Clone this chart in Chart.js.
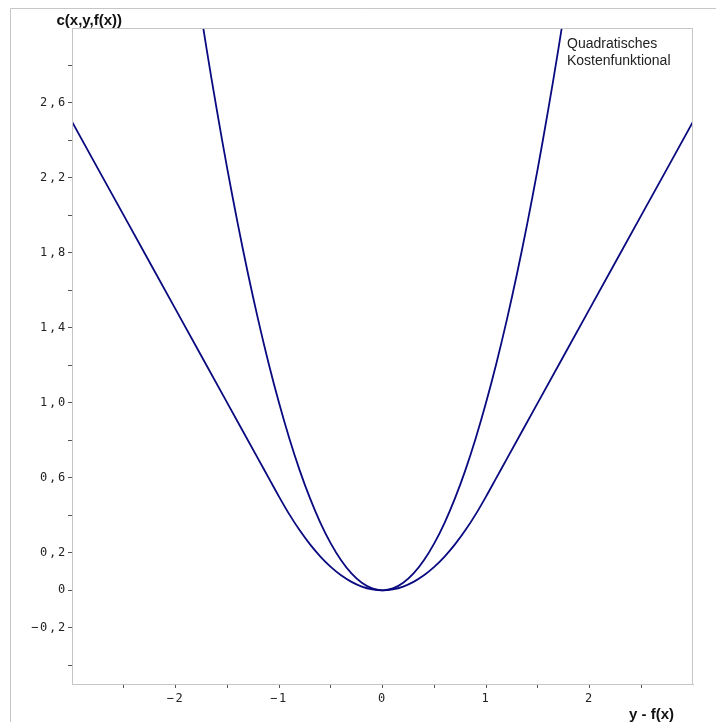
<!DOCTYPE html>
<html>
<head>
<meta charset="utf-8">
<script src="https://cdn.jsdelivr.net/npm/chart.js@4"></script>
<style>
  body { margin: 0; background: #fff; }
  canvas { display: block; }
</style>
</head>
<body>
<canvas id="myChart" width="716" height="722"></canvas>
<script>
// quadratic cost
let quadX = [-1.8, -1.7, -1.6, -1.5, -1.4, -1.3, -1.2, -1.1, -1.0, -0.9, -0.8, -0.7, -0.6, -0.5, -0.4, -0.3, -0.2, -0.1, 0,
  0.1, 0.2, 0.3, 0.4, 0.5, 0.6, 0.7, 0.8, 0.9, 1.0, 1.1, 1.2, 1.3, 1.4, 1.5, 1.6, 1.7, 1.8];
let quadCost = [3.24, 2.89, 2.56, 2.25, 1.96, 1.69, 1.44, 1.21, 1.0, 0.81, 0.64, 0.49, 0.36, 0.25, 0.16, 0.09, 0.04, 0.01, 0,
  0.01, 0.04, 0.09, 0.16, 0.25, 0.36, 0.49, 0.64, 0.81, 1.0, 1.21, 1.44, 1.69, 1.96, 2.25, 2.56, 2.89, 3.24];

// the flatter curve (quadratic in the middle, straight outside)
let flatX = [-3.0, -2.5, -2.0, -1.5, -1.2, -1.1, -1.0, -0.9, -0.8, -0.7, -0.6, -0.5, -0.4, -0.3, -0.2, -0.1, 0,
  0.1, 0.2, 0.3, 0.4, 0.5, 0.6, 0.7, 0.8, 0.9, 1.0, 1.1, 1.2, 1.5, 2.0, 2.5, 3.0];
let flatCost = [2.5, 2.0, 1.5, 1.0, 0.7, 0.6, 0.5, 0.405, 0.32, 0.245, 0.18, 0.125, 0.08, 0.045, 0.02, 0.005, 0,
  0.005, 0.02, 0.045, 0.08, 0.125, 0.18, 0.245, 0.32, 0.405, 0.5, 0.6, 0.7, 1.0, 1.5, 2.0, 2.5];

let yTicks = [2.8, 2.6, 2.4, 2.2, 2.0, 1.8, 1.6, 1.4, 1.2, 1.0, 0.8, 0.6, 0.4, 0.2, 0, -0.2, -0.4];
let yLabels = ["", "2,6", "", "2,2", "", "1,8", "", "1,4", "", "1,0", "", "0,6", "", "0,2", "0", "\u22120,2", ""];
let xTicks = [-2.5, -2, -1.5, -1, -0.5, 0, 0.5, 1, 1.5, 2, 2.5];
let xLabels = ["", "\u22122", "", "\u22121", "", "0", "", "1", "", "2", ""];

let legendLines = ["Quadratisches", "Kostenfunktional"];
let yTitle = "c(x,y,f(x))";
let xTitle = "y - f(x)";

let toPoints = (xs, ys) => xs.map((x, i) => ({ x: x, y: ys[i] }));

const decor = {
  id: "decor",
  beforeDraw(chart) {
    // tick labels are spaced out in the picture
    chart.ctx.letterSpacing = "1.8px";
  },
  afterDraw(chart) {
    let ctx = chart.ctx;
    let a = chart.chartArea;
    ctx.save();
    ctx.letterSpacing = "0px";
    ctx.strokeStyle = "#c6c6c6";
    ctx.lineWidth = 1;
    ctx.beginPath();
    ctx.moveTo(10.5, 722);
    ctx.lineTo(10.5, 8.5);
    ctx.lineTo(716, 8.5);
    ctx.stroke();
    ctx.strokeRect(a.left + 0.5, a.top + 0.5, a.right - a.left - 1, a.bottom - a.top);

    ctx.fillStyle = "#111";
    ctx.font = "bold 15px 'Liberation Sans', Arial, sans-serif";
    ctx.textBaseline = "alphabetic";
    ctx.textAlign = "left";
    ctx.fillText(yTitle, 56.5, 25);
    ctx.textAlign = "right";
    ctx.fillText(xTitle, 674, 719);

    ctx.font = "14px 'Liberation Sans', Arial, sans-serif";
    ctx.textAlign = "left";
    ctx.fillStyle = "#222";
    legendLines.forEach((t, i) => ctx.fillText(t, 567, 48 + i * 16.5));
    ctx.restore();
  }
};

var ctx = document.getElementById("myChart").getContext("2d");
var chart = new Chart(ctx, {
  type: "scatter",
  data: {
    datasets: [{
      label: "quadratisch",
      data: toPoints(quadX, quadCost),
      showLine: true,
      borderColor: "#0a0a80",
      borderWidth: 1.8,
      pointRadius: 0,
      tension: 0.3
    }, {
      label: "flach",
      data: toPoints(flatX, flatCost),
      showLine: true,
      borderColor: "#0a0a80",
      borderWidth: 1.8,
      pointRadius: 0,
      tension: 0.3
    }]
  },
  options: {
    responsive: false,
    animation: false,
    layout: { padding: { left: 0, top: 28, right: 23, bottom: 0 } },
    plugins: { legend: { display: false }, tooltip: { enabled: false } },
    scales: {
      x: {
        type: "linear",
        min: -3,
        max: 3,
        afterBuildTicks: scale => { scale.ticks = xTicks.map(v => ({ value: v })); },
        afterFit: scale => { scale.height = 38; },
        grid: { drawOnChartArea: false, drawTicks: true, tickLength: 4, tickColor: "#555" },
        border: { color: "#c6c6c6" },
        ticks: {
          autoSkip: false,
          maxRotation: 0,
          padding: 4,
          color: "#222",
          font: { family: "'DejaVu Sans Mono', monospace", size: 12 },
          callback: (v, i) => xLabels[i]
        }
      },
      y: {
        type: "linear",
        min: -0.5,
        max: 3,
        afterBuildTicks: scale => { scale.ticks = yTicks.map(v => ({ value: v })); },
        afterFit: scale => { scale.width = 72; },
        grid: { drawOnChartArea: false, drawTicks: true, tickLength: 4, tickColor: "#555" },
        border: { color: "#c6c6c6" },
        ticks: {
          autoSkip: false,
          padding: 1,
          color: "#222",
          font: { family: "'DejaVu Sans Mono', monospace", size: 12 },
          callback: (v, i) => yLabels[i]
        }
      }
    }
  },
  plugins: [decor]
});
</script>
</body>
</html>
